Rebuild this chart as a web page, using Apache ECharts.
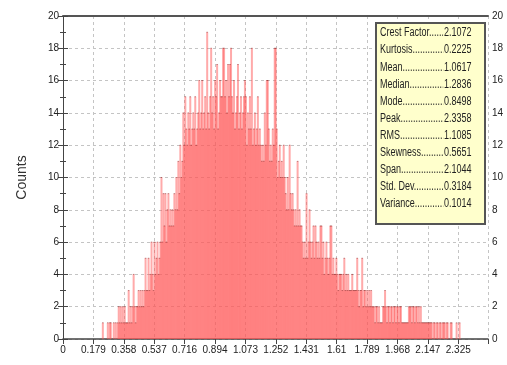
<!DOCTYPE html>
<html>
<head>
<meta charset="utf-8">
<script src="https://cdn.jsdelivr.net/npm/echarts@6/dist/echarts.min.js"></script>
<style>
  html, body { margin: 0; padding: 0; background: #fff; }
  #chart { width: 507px; height: 365px; }
</style>
</head>
<body>
<div id="chart"></div>
<script>
// histogram: 360 bins from min to peak
const BIN_START = 0.2314
const BIN_WIDTH = 2.1044 / 360
const COUNTS = [
  1,0,0,0,0,1,0,1,1,0,
  0,1,0,1,0,1,2,1,2,1,
  2,1,2,1,1,1,3,1,2,1,
  2,4,2,1,2,2,3,2,3,2,
  3,2,3,5,3,3,5,3,4,6,
  4,3,6,4,5,6,4,5,6,10,
  6,9,7,9,6,8,9,7,8,7,
  8,7,9,8,10,8,11,9,12,10,
  11,14,12,15,13,12,14,13,15,12,
  13,14,13,15,12,13,14,16,13,14,
  16,13,14,15,13,19,14,13,15,18,
  14,15,13,16,15,17,13,14,16,15,
  15,18,18,15,16,14,17,15,17,18,
  15,14,16,13,14,15,17,13,14,15,
  13,14,15,16,15,12,14,13,15,13,
  18,12,13,14,12,13,15,12,13,12,
  11,12,11,14,12,16,16,13,11,12,
  11,13,12,18,18,13,10,11,12,10,
  11,10,12,10,9,8,10,8,12,9,
  8,9,8,7,8,7,11,7,8,7,
  7,6,5,6,5,9,5,6,8,6,
  5,6,7,5,7,6,5,6,5,7,
  7,5,6,4,5,6,5,4,5,7,
  7,4,5,4,4,5,4,3,4,4,
  4,3,4,5,3,4,3,4,3,3,
  3,4,3,3,3,3,5,3,2,3,
  3,5,2,3,3,2,3,2,3,2,
  3,2,2,2,1,2,2,1,2,1,
  1,1,2,2,3,2,1,2,2,1,
  2,2,1,2,2,1,2,2,1,2,
  2,1,1,1,1,1,1,1,2,2,
  2,1,2,2,1,2,2,1,2,1,
  2,1,1,1,1,1,1,1,1,1,
  1,1,0,1,1,0,1,1,0,1,
  1,0,1,1,1,0,1,1,0,0,
  1,1,0,0,0,0,1,0,0,1
]
const X_STEP = 0.17885
const X_TICK_LABELS = ['0', '0.179', '0.358', '0.537', '0.716', '0.894', '1.073',
  '1.252', '1.431', '1.61', '1.789', '1.968', '2.147', '2.325']
const STAT_NAMES = ['Crest Factor', 'Kurtosis', 'Mean', 'Median', 'Mode', 'Peak',
  'RMS', 'Skewness', 'Span', 'Std. Dev', 'Variance']
const STAT_VALUES = ['2.1072', '0.2225', '1.0617', '1.2836', '0.8498', '2.3358',
  '1.1085', '0.5651', '2.1044', '0.3184', '0.1014']

const FONT = "'Liberation Sans', Arial, sans-serif"
const AXIS_COLOR = '#444'
const BOX_FILL = '#ffffcc'

const binData = COUNTS
  .map((c, i) => [BIN_START + (i + 0.5) * BIN_WIDTH, c])
  .filter((d) => d[1] > 0)

function xLabel(v) {
  const k = Math.round(v / X_STEP)
  if (Math.abs(v - k * X_STEP) > 1e-6) return ''
  return X_TICK_LABELS[k] || ''
}

function yAxisCfg(pos) {
  return {
    type: 'value',
    position: pos,
    min: 0,
    max: 20,
    interval: 2,
    name: pos === 'left' ? 'Counts' : '',
    nameLocation: 'middle',
    nameGap: 34,
    nameTextStyle: { fontFamily: FONT, fontSize: 14, color: '#333' },
    axisLine: { show: true, lineStyle: { color: AXIS_COLOR, width: 1 } },
    axisTick: { show: true, inside: false, length: 5, lineStyle: { color: AXIS_COLOR } },
    minorTick: { show: true, splitNumber: 2, length: 3, lineStyle: { color: AXIS_COLOR } },
    axisLabel: { fontFamily: FONT, fontSize: 10, color: '#222', margin: 4 },
    splitLine: {
      show: pos === 'left',
      lineStyle: { color: '#c4c4c4', type: [3, 3], width: 1 },
    },
  }
}

// stats box text: name + dot leader (clipped), value right aligned over it
const TEXT_SCALE = 0.75
const TEXT_W = 122
const statText = []
STAT_NAMES.forEach((name, i) => {
  const y = 11 + i * 17.1
  statText.push({
    type: 'text',
    x: 0,
    y: y,
    z: 11,
    style: {
      text: name + '.'.repeat(40),
      font: '12px ' + FONT,
      fill: '#222',
      verticalAlign: 'middle',
      width: TEXT_W - 20,
      overflow: 'truncate',
      ellipsis: '',
    },
  })
  statText.push({
    type: 'text',
    x: TEXT_W,
    y: y,
    z: 12,
    style: {
      text: STAT_VALUES[i],
      font: '12px ' + FONT,
      fill: '#222',
      align: 'right',
      verticalAlign: 'middle',
      backgroundColor: BOX_FILL,
      padding: [0, 0, 0, 1],
    },
  })
})

const chart = echarts.init(document.getElementById('chart'))
chart.setOption({
  animation: false,
  grid: { left: 63, right: 19, top: 16, bottom: 26 },
  xAxis: [
    {
      type: 'value',
      min: 0,
      max: 2.5,
      interval: X_STEP,
      axisLine: { show: true, onZero: false, lineStyle: { color: AXIS_COLOR, width: 1.5 } },
      axisTick: { show: true, inside: false, length: 5, lineStyle: { color: AXIS_COLOR } },
      axisLabel: { fontFamily: FONT, fontSize: 10, color: '#222', margin: 6, formatter: xLabel },
      splitLine: { show: true, lineStyle: { color: '#c4c4c4', type: [3, 3], width: 1 } },
    },
    {
      type: 'value',
      position: 'top',
      min: 0,
      max: 2.5,
      axisLine: { show: true, onZero: false, lineStyle: { color: '#555', width: 2 } },
      axisTick: { show: false },
      axisLabel: { show: false },
      splitLine: { show: false },
    },
  ],
  yAxis: [yAxisCfg('left'), yAxisCfg('right')],
  series: [
    {
      type: 'bar',
      data: binData,
      barWidth: 2,
      itemStyle: { color: 'rgba(255,86,86,0.5)' },
      silent: true,
    },
    {
      type: 'scatter',
      data: binData,
      symbol: 'rect',
      symbolSize: [1.5, 1],
      itemStyle: { color: 'rgba(130,20,20,0.6)' },
      silent: true,
    },
  ],
  graphic: [
    {
      type: 'rect',
      left: 375,
      top: 22,
      z: 10,
      shape: { x: 0, y: 0, width: 109, height: 201 },
      style: { fill: BOX_FILL, stroke: '#555', lineWidth: 2 },
    },
    {
      type: 'group',
      x: 380,
      y: 22,
      scaleX: TEXT_SCALE,
      z: 11,
      children: statText,
    },
  ],
})
</script>
</body>
</html>
